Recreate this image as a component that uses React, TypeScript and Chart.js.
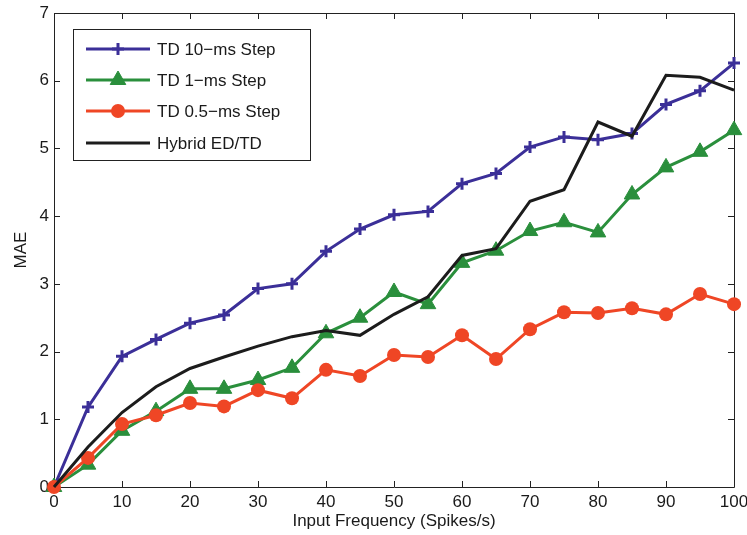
import React, { useEffect, useRef } from "react";
import { Chart, registerables } from "chart.js";
Chart.register(...registerables);

const frequencies = [0, 5, 10, 15, 20, 25, 30, 35, 40, 45, 50, 55, 60, 65, 70, 75, 80, 85, 90, 95, 100];
const td10ms = [0, 1.18, 1.93, 2.18, 2.42, 2.54, 2.93, 3.0, 3.48, 3.81, 4.02, 4.07, 4.48, 4.63, 5.02, 5.17, 5.13, 5.22, 5.65, 5.85, 6.26];
const td1ms = [0, 0.33, 0.83, 1.12, 1.45, 1.45, 1.58, 1.76, 2.27, 2.5, 2.88, 2.7, 3.31, 3.49, 3.78, 3.91, 3.76, 4.32, 4.72, 4.95, 5.27];
const td05ms = [0, 0.43, 0.93, 1.06, 1.24, 1.19, 1.43, 1.31, 1.73, 1.64, 1.95, 1.92, 2.24, 1.89, 2.33, 2.58, 2.57, 2.64, 2.55, 2.85, 2.7];
const hybrid = [0, 0.59, 1.1, 1.48, 1.75, 1.92, 2.08, 2.22, 2.31, 2.24, 2.55, 2.81, 3.42, 3.52, 4.22, 4.39, 5.39, 5.18, 6.08, 6.05, 5.86];
const seriesLabels = ["TD 10\u2212ms Step", "TD 1\u2212ms Step", "TD 0.5\u2212ms Step", "Hybrid ED/TD"];
const xTitle = "Input Frequency (Spikes/s)";
const yTitle = "MAE";

const FONT = "'Liberation Sans', Arial, Helvetica, sans-serif";
const BLUE = "#3b2f98";
const GREEN = "#2a8f3c";
const RED = "#ef4625";
const BLACK = "#1c1c1c";

const toPts = (ys: number[]) => ys.map((y, i) => ({ x: frequencies[i], y }));

function drawPointShape(ctx: CanvasRenderingContext2D, style: string, r: number, x: number, y: number) {
  ctx.beginPath();
  if (style === "cross") {
    ctx.moveTo(x - r, y);
    ctx.lineTo(x + r, y);
    ctx.moveTo(x, y - r);
    ctx.lineTo(x, y + r);
    ctx.stroke();
  } else if (style === "triangle") {
    for (let k = 0; k < 3; k++) {
      const ang = (k * 2 * Math.PI) / 3;
      const px = x + Math.sin(ang) * r;
      const py = y - Math.cos(ang) * r;
      if (k === 0) ctx.moveTo(px, py);
      else ctx.lineTo(px, py);
    }
    ctx.closePath();
    ctx.fill();
    ctx.stroke();
  } else {
    ctx.arc(x, y, r, 0, Math.PI * 2);
    ctx.fill();
  }
}

const framePlugin = {
  id: "frame",
  beforeDatasetsDraw(chart: any) {
    const { ctx, chartArea: a, scales } = chart;
    ctx.save();
    ctx.strokeStyle = "#222";
    ctx.lineWidth = 1;
    ctx.beginPath();
    ctx.rect(Math.round(a.left) + 0.5, Math.round(a.top) + 0.5, Math.round(a.right - a.left), Math.round(a.bottom - a.top));
    ctx.stroke();
    const tl = 6;
    ctx.beginPath();
    scales.x.ticks.forEach((t: any) => {
      const px = Math.round(scales.x.getPixelForValue(t.value)) + 0.5;
      ctx.moveTo(px, a.bottom);
      ctx.lineTo(px, a.bottom - tl);
      ctx.moveTo(px, a.top);
      ctx.lineTo(px, a.top + tl);
    });
    scales.y.ticks.forEach((t: any) => {
      const py = Math.round(scales.y.getPixelForValue(t.value)) + 0.5;
      ctx.moveTo(a.left, py);
      ctx.lineTo(a.left + tl, py);
      ctx.moveTo(a.right, py);
      ctx.lineTo(a.right - tl, py);
    });
    ctx.stroke();
    ctx.restore();
  },
};

const legendPlugin = {
  id: "insideLegend",
  afterDatasetsDraw(chart: any) {
    const { ctx } = chart;
    const box = { x: 73, y: 29, w: 237, h: 131 };
    ctx.save();
    ctx.fillStyle = "#fff";
    ctx.fillRect(box.x, box.y, box.w, box.h);
    ctx.strokeStyle = "#222";
    ctx.lineWidth = 1;
    ctx.strokeRect(box.x + 0.5, box.y + 0.5, box.w, box.h);
    const rows = [49, 80, 111, 143];
    chart.data.datasets.forEach((ds: any, i: number) => {
      const y = rows[i];
      ctx.strokeStyle = ds.borderColor;
      ctx.lineWidth = ds.borderWidth;
      ctx.beginPath();
      ctx.moveTo(86, y);
      ctx.lineTo(150, y);
      ctx.stroke();
      if (ds.pointRadius > 0) {
        ctx.fillStyle = ds.pointBackgroundColor;
        ctx.strokeStyle = ds.pointBorderColor;
        ctx.lineWidth = ds.pointBorderWidth;
        drawPointShape(ctx, ds.pointStyle, ds.pointRadius, 118, y);
      }
      ctx.fillStyle = "#1a1a1a";
      ctx.font = `17px ${FONT}`;
      ctx.textBaseline = "middle";
      ctx.textAlign = "left";
      ctx.fillText(ds.label, 157, y + 1);
    });
    ctx.restore();
  },
};

export default function App() {
  const ref = useRef<HTMLCanvasElement | null>(null);
  useEffect(() => {
    if (!ref.current) return;
    const chart = new Chart(ref.current, {
      type: "line",
      data: {
        datasets: [
          {
            label: seriesLabels[0],
            data: toPts(td10ms),
            borderColor: BLUE,
            backgroundColor: BLUE,
            borderWidth: 3,
            pointStyle: "cross",
            pointRadius: 6,
            pointBorderWidth: 3,
            pointBorderColor: BLUE,
            pointBackgroundColor: BLUE,
            order: 4,
            clip: false,
          },
          {
            label: seriesLabels[1],
            data: toPts(td1ms),
            borderColor: GREEN,
            backgroundColor: GREEN,
            borderWidth: 3,
            pointStyle: "triangle",
            pointRadius: 9,
            pointBorderWidth: 1,
            pointBorderColor: GREEN,
            pointBackgroundColor: GREEN,
            order: 3,
            clip: false,
          },
          {
            label: seriesLabels[2],
            data: toPts(td05ms),
            borderColor: RED,
            backgroundColor: RED,
            borderWidth: 3,
            pointStyle: "circle",
            pointRadius: 7,
            pointBorderWidth: 0,
            pointBorderColor: RED,
            pointBackgroundColor: RED,
            order: 2,
            clip: false,
          },
          {
            label: seriesLabels[3],
            data: toPts(hybrid),
            borderColor: BLACK,
            backgroundColor: BLACK,
            borderWidth: 3,
            pointRadius: 0,
            order: 1,
            clip: false,
          },
        ] as any,
      },
      options: {
        responsive: false,
        animation: false,
        events: [],
        layout: { padding: { left: 0, right: 13, top: 13, bottom: 0 } },
        plugins: { legend: { display: false }, tooltip: { enabled: false } },
        elements: { line: { tension: 0 } },
        scales: {
          x: {
            type: "linear",
            min: 0,
            max: 100,
            grid: { display: false, drawTicks: false },
            border: { display: false },
            ticks: { stepSize: 10, padding: 5, color: "#1a1a1a", font: { family: FONT, size: 17 } },
            title: { display: true, text: xTitle, color: "#1a1a1a", font: { family: FONT, size: 17 }, padding: { top: 0, bottom: 3 } },
            afterFit: (s: any) => {
              s.height = 48;
              s.paddingLeft = 0;
              s.paddingRight = 0;
            },
          },
          y: {
            type: "linear",
            min: 0,
            max: 7,
            grid: { display: false, drawTicks: false },
            border: { display: false },
            ticks: { stepSize: 1, padding: 5, color: "#1a1a1a", font: { family: FONT, size: 17 } },
            title: { display: true, text: yTitle, color: "#1a1a1a", font: { family: FONT, size: 17 }, padding: { top: 11, bottom: 0 } },
            afterFit: (s: any) => {
              s.width = 54;
              s.paddingTop = 0;
              s.paddingBottom = 0;
            },
          },
        },
      } as any,
      plugins: [framePlugin, legendPlugin],
    });
    return () => chart.destroy();
  }, []);
  return (
    <div style={{ position: "fixed", left: 0, top: 0, width: 747, height: 535, background: "#fff" }}>
      <canvas ref={ref} width={747} height={535} style={{ display: "block" }} />
    </div>
  );
}
